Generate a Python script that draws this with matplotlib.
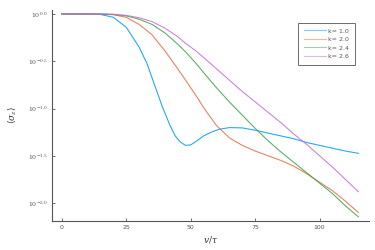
import matplotlib
matplotlib.use('Agg')
import matplotlib.pyplot as plt
import numpy as np
from matplotlib.ticker import FixedLocator, FuncFormatter

# data: log10 of <sigma_z>
t_k10 = [0, 5, 10, 15, 20, 25, 30, 33, 36, 39, 42, 44, 46, 48, 50, 52, 55, 58, 61, 65,
         70, 75, 80, 85, 90, 95, 100, 105, 110, 115]
log_k10 = [0, 0, 0, -0.005, -0.035, -0.14, -0.35, -0.52, -0.75, -0.98, -1.18, -1.29,
           -1.355, -1.39, -1.385, -1.35, -1.29, -1.25, -1.22, -1.202, -1.205, -1.23,
           -1.26, -1.29, -1.32, -1.36, -1.39, -1.42, -1.45, -1.474]
t = [0, 5, 10, 15, 20, 25, 30, 35, 40, 45, 48, 50, 52, 55, 60, 65, 70, 75,
     80, 85, 90, 95, 100, 105, 110, 115]
log_k20 = [0, 0, 0, -0.002, -0.008, -0.035, -0.11, -0.22, -0.39, -0.58, -0.70, -0.78,
           -0.86, -0.99, -1.18, -1.31, -1.39, -1.45, -1.50, -1.55, -1.61, -1.69,
           -1.78, -1.87, -1.98, -2.10]
log_k24 = [0, 0, 0, 0, -0.005, -0.02, -0.055, -0.11, -0.2, -0.32, -0.40, -0.46,
           -0.52, -0.62, -0.78, -0.93, -1.07, -1.21, -1.34, -1.46, -1.57, -1.68,
           -1.79, -1.90, -2.03, -2.145]
log_k26 = [0, 0, 0, 0, -0.003, -0.015, -0.04, -0.08, -0.15, -0.24, -0.31, -0.35,
           -0.39, -0.46, -0.58, -0.70, -0.82, -0.93, -1.04, -1.15, -1.27, -1.38,
           -1.50, -1.62, -1.75, -1.88]
labels = ['k= 1.0', 'k= 2.0', 'k= 2.4', 'k= 2.6']
colors = ['#009AFA', '#E36F47', '#3EA44E', '#C371D2']

yticks = [0.0, -0.5, -1.0, -1.5, -2.0]
xticks = [0, 25, 50, 75, 100]

plt.rcParams['font.family'] = ['DejaVu Sans']
plt.rcParams['mathtext.fontset'] = 'dejavuserif'

fig = plt.figure(figsize=(3.75, 2.5), dpi=100)
ax = fig.add_axes([0.1387, 0.116, 0.845, 0.844])

series = [(t_k10, log_k10), (t, log_k20), (t, log_k24), (t, log_k26)]
for (xs, ys), c, lab in zip(series, colors, labels):
    ax.plot(xs, 10 ** np.array(ys), color=c, lw=0.8, alpha=0.85, label=lab)

ax.set_yscale('log')
ax.set_ylim(10 ** -2.19, 10 ** 0.042)
ax.set_xlim(-3.76, 119.1)
ax.yaxis.set_major_locator(FixedLocator([10 ** v for v in yticks]))
ax.yaxis.set_minor_locator(FixedLocator([]))
ax.yaxis.set_major_formatter(FuncFormatter(
    lambda v, p: r'$10^{%.1f}$' % np.log10(v) if abs(np.log10(v)) > 0.01 else r'$10^{0.0}$'))
ax.set_xticks(xticks)

for s in ['top', 'right']:
    ax.spines[s].set_visible(False)
for s in ['left', 'bottom']:
    ax.spines[s].set_color('#555555')
    ax.spines[s].set_linewidth(0.8)
ax.tick_params(direction='in', length=2.5, width=0.6, color='#555555',
               labelsize=4.5, labelcolor='#555555', pad=3)

ax.set_xlabel(r'$v/\tau$', fontsize=6.5, color='#333333', labelpad=3)
ax.set_ylabel(r'$\langle\sigma_z\rangle$', fontsize=6.5, color='#333333', labelpad=7)

leg = ax.legend(loc='upper right', bbox_to_anchor=(0.965, 0.955), fontsize=4.5,
                fancybox=False, edgecolor='#555555', framealpha=1,
                handlelength=3.5, borderpad=0.9, labelspacing=0.5, handletextpad=0.4)
leg.get_frame().set_linewidth(0.6)
for line in leg.get_lines():
    line.set_alpha(0.5)
for txt in leg.get_texts():
    txt.set_color('#555555')

fig.savefig('out.png', dpi=100)
